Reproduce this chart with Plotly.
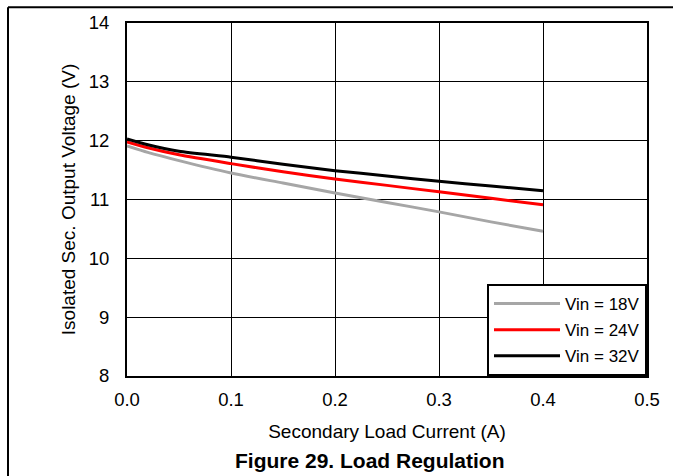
import plotly.graph_objects as go

current = [0, 0.02, 0.05, 0.1, 0.15, 0.2, 0.25, 0.3, 0.35, 0.4]
vin18 = [11.91, 11.80, 11.66, 11.45, 11.28, 11.11, 10.95, 10.79, 10.62, 10.46]
vin24 = [11.98, 11.88, 11.76, 11.61, 11.47, 11.35, 11.24, 11.13, 11.02, 10.91]
vin32 = [12.03, 11.93, 11.82, 11.72, 11.60, 11.49, 11.40, 11.31, 11.23, 11.15]

series = [("Vin = 18V", vin18, "#a6a6a6"), ("Vin = 24V", vin24, "#ff0000"), ("Vin = 32V", vin32, "#000000")]

FONT = "Arial, Liberation Sans, sans-serif"

fig = go.Figure()
for name, ys, col in series:
    fig.add_trace(go.Scatter(x=current, y=ys, mode="lines", name=name, legendgroup=name,
                             line=dict(color=col, width=3, shape="spline", smoothing=0.6)))

L, R, T, B = 127, 647, 20, 376
W, H = 673, 476
pw, ph = R - L, B - T

def px(x):
    return (x - L) / pw

def py(y):
    return (B - y) / ph

fig.update_layout(
    width=W, height=H,
    margin=dict(l=L, r=W - R, t=T, b=H - B),
    paper_bgcolor="white", plot_bgcolor="white",
    font=dict(family=FONT, size=18.5, color="black"),
    showlegend=True,
    legend=dict(x=1, y=0, xanchor="right", yanchor="bottom",
                bordercolor="black", borderwidth=2, bgcolor="white",
                font=dict(size=17), tracegroupgap=1, itemwidth=66),
    xaxis=dict(range=[0, 0.5], dtick=0.1, tickformat=".1f",
               showgrid=True, gridcolor="black", gridwidth=1,
               showline=True, linecolor="black", linewidth=2, mirror=True,
               ticks="outside", ticklen=6, tickcolor="rgba(0,0,0,0)",
               zeroline=False,
               title=dict(text="Secondary Load Current (A)", standoff=15, font=dict(size=19))),
    yaxis=dict(range=[8, 14], dtick=1,
               showgrid=True, gridcolor="black", gridwidth=1,
               showline=True, linecolor="black", linewidth=2, mirror=True,
               ticks="outside", ticklen=12, tickcolor="rgba(0,0,0,0)",
               zeroline=False,
               title=dict(text="Isolated Sec. Output Voltage (V)", standoff=8, font=dict(size=19))),
    annotations=[dict(text="<b>Figure 29. Load Regulation</b>", xref="paper", yref="paper",
                      x=px(370), y=py(461), xanchor="center", yanchor="middle",
                      showarrow=False, font=dict(size=21, family=FONT, color="black"))],
    shapes=[
        dict(type="line", xref="paper", yref="paper", x0=px(8), y0=py(480), x1=px(8), y1=py(4),
             line=dict(color="black", width=2)),
        dict(type="line", xref="paper", yref="paper", x0=px(8), y0=py(4), x1=px(690), y1=py(4),
             line=dict(color="black", width=2)),
    ],
)

fig.write_html("out.html", config={"displayModeBar": False},
               post_script="document.body.style.margin='0';document.body.style.overflow='hidden';")
